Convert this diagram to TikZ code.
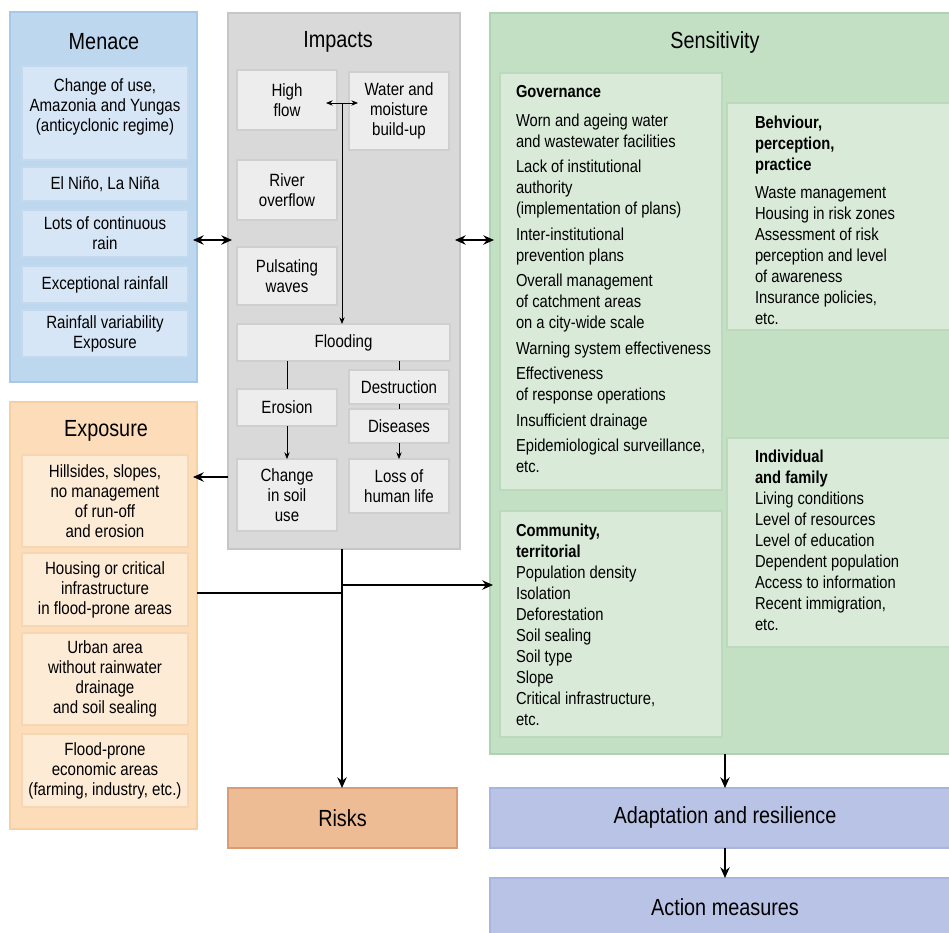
\documentclass[tikz,border=0pt]{standalone}
\usepackage{fontspec}
\setmainfont{Liberation Sans}[FakeStretch=0.85]
\usetikzlibrary{fit,arrows.meta,calc}
\definecolor{menF}{HTML}{BDD7EE}\definecolor{menB}{HTML}{A8C8E8}
\definecolor{menI}{HTML}{D7E6F6}\definecolor{menIB}{HTML}{C5D9EE}
\definecolor{impF}{HTML}{D9D9D9}\definecolor{impB}{HTML}{C6C6C6}
\definecolor{impI}{HTML}{EDEDED}\definecolor{impIB}{HTML}{CFCFCF}
\definecolor{expF}{HTML}{FDDDB9}\definecolor{expB}{HTML}{F8CFA2}
\definecolor{expI}{HTML}{FDEBD6}\definecolor{expIB}{HTML}{F6D7B3}
\definecolor{senF}{HTML}{C3E0C5}\definecolor{senB}{HTML}{ADD4B1}
\definecolor{senI}{HTML}{D9EAD9}\definecolor{senIB}{HTML}{BBD9BD}
\definecolor{rskF}{HTML}{EDBB94}\definecolor{rskB}{HTML}{D99C75}
\definecolor{adpF}{HTML}{B9C3E6}\definecolor{adpB}{HTML}{A9B5DF}
% box with centred text: style, name, corners, text
\newcommand\tbox[4]{\node[#1, fit={#3}] (#2) {};
  \node[ctext] (#2-t) at (#2.center) {#4};}
\begin{document}
\begin{tikzpicture}[x=0.75pt,y=-0.75pt,
  every node/.style={inner sep=0pt,outer sep=0pt},
  bx/.style={draw=#1B, fill=#1F, line width=1.1pt},
  ibx/.style={draw=#1IB, fill=#1I, line width=1.1pt},
  ttl/.style={font=\fontsize{17.5}{21}\selectfont},
  ctext/.style={align=center, font=\fontsize{13.3}{15}\selectfont},
  ltext/.style={align=left, anchor=north west, font=\fontsize{13}{15.75}\selectfont},
  bigarrow/.style={line width=1.2pt, >={Stealth[length=8pt,width=7pt]}},
  thinarrow/.style={line width=0.6pt, >={Stealth[length=5pt,width=4pt]}}
]
\useasboundingbox (0,0) rectangle (949,932);

% ---------- Menace ----------
\node[bx=men, fit={(10,12)(197,382)}] (menace) {};
\node[ttl] (menaceT) at (104,42) {Menace};
\node[ibx=men, fit={(22,66)(188,160)}] (m1) {};
\node[ctext] (m1t) at (105,107) {Change of use,\\Amazonia and Yungas\\(anticyclonic regime)};
\tbox{ibx=men}{m2}{(22,167)(188,201)}{El Niño, La Niña}
\tbox{ibx=men}{m3}{(22,210)(188,257)}{Lots of continuous\\rain}
\tbox{ibx=men}{m4}{(22,266)(188,303)}{Exceptional rainfall}
\tbox{ibx=men}{m5}{(22,310)(188,357)}{Rainfall variability\\Exposure}

% ---------- Impacts ----------
\node[bx=imp, fit={(228,13)(460,549)}] (imp) {};
\node[ttl] (impT) at (338,42) {Impacts};
\tbox{ibx=imp}{hf}{(237,70)(337,130)}{High\\flow}
\tbox{ibx=imp}{wm}{(349,72)(449,150)}{Water and\\moisture\\build-up}
\tbox{ibx=imp}{ro}{(237,160)(337,220)}{River\\overflow}
\tbox{ibx=imp}{pw}{(237,247)(337,305)}{Pulsating\\waves}
\tbox{ibx=imp}{fl}{(237,324)(450,361)}{Flooding}
\tbox{ibx=imp}{er}{(237,389)(337,426)}{Erosion}
\tbox{ibx=imp}{de}{(349,370)(449,404)}{Destruction}
\tbox{ibx=imp}{di}{(349,409)(449,443)}{Diseases}
\tbox{ibx=imp}{cs}{(237,459)(337,531)}{Change\\in soil\\use}
\tbox{ibx=imp}{lh}{(349,459)(449,513)}{Loss of\\human life}

% ---------- Exposure ----------
\node[bx=exp, fit={(10,402)(197,829)}] (exp) {};
\node[ttl] (expT) at (106,431) {Exposure};
\tbox{ibx=exp}{e1}{(22,455)(188,547)}{Hillsides, slopes,\\no management\\of run-off\\and erosion}
\tbox{ibx=exp}{e2}{(22,553)(188,626)}{Housing or critical\\infrastructure\\in flood-prone areas}
\tbox{ibx=exp}{e3}{(22,633)(188,725)}{Urban area\\without rainwater\\drainage\\and soil sealing}
\tbox{ibx=exp}{e4}{(22,734)(188,807)}{Flood-prone\\economic areas\\(farming, industry, etc.)}

% ---------- Risks ----------
\node[bx=rsk, fit={(228,788)(457,848)}] (risks) {};
\node[ttl] (risksT) at (risks.center) {Risks};

% ---------- Sensitivity ----------
\node[bx=sen, fit={(490,13)(953,754)}] (sens) {};
\node[ttl] (sensT) at (715,42) {Sensitivity};
\node[ibx=sen, fit={(500,73)(722,490)}] (gov) {};
\node[ibx=sen, fit={(727,103)(953,330)}] (beh) {};
\node[ibx=sen, fit={(727,438)(953,647)}] (ind) {};
\node[ibx=sen, fit={(500,511)(722,737)}] (com) {};
\node[ltext] (govt) at (516,85) {\textbf{Governance}\\[6pt]
Worn and ageing water\\and wastewater facilities\\[3.4pt]
Lack of institutional\\authority\\(implementation of plans)\\[3.4pt]
Inter-institutional\\prevention plans\\[3.4pt]
Overall management\\of catchment areas\\on a city-wide scale\\[3.4pt]
Warning system effectiveness\\[3.4pt]
Effectiveness\\of response operations\\[3.4pt]
Insufficient drainage\\[3.4pt]
Epidemiological surveillance,\\etc.};
\node[ltext] (beht) at (755,116) {\textbf{Behviour,}\\\textbf{perception,}\\\textbf{practice}\\[5pt]
Waste management\\Housing in risk zones\\Assessment of risk\\perception and level\\of awareness\\Insurance policies,\\etc.};
\node[ltext] (indt) at (755,450) {\textbf{Individual}\\\textbf{and family}\\
Living conditions\\Level of resources\\Level of education\\Dependent population\\Access to information\\Recent immigration,\\etc.};
\node[ltext] (comt) at (516,524) {\textbf{Community,}\\\textbf{territorial}\\
Population density\\Isolation\\Deforestation\\Soil sealing\\Soil type\\Slope\\Critical infrastructure,\\etc.};

% ---------- Adaptation / Action ----------
\node[bx=adp, fit={(490,788)(953,848)}] (adapt) {};
\node[ttl] (adaptT) at (725,817) {Adaptation and resilience};
\node[bx=adp, fit={(490,878)(953,945)}] (act) {};
\node[ttl] (actT) at (725,907) {Action measures};

% ---------- helper coordinates ----------
\coordinate (r240) at (0,240);
\coordinate (r477) at (0,477);
\coordinate (r593) at (0,593);
\coordinate (r585) at (0,585);
\coordinate (cx) at (342,0);
\coordinate (ax) at (725,0);
\coordinate (vx) at (342,103);

% ---------- connectors ----------
\draw[bigarrow,<->] ($(menace.east|-r240)+(-4,0)$) -- ($(imp.west|-r240)+(4,0)$);
\draw[bigarrow,<->] ($(imp.east|-r240)+(-5,0)$) -- ($(sens.west|-r240)+(4,0)$);
\draw[bigarrow,->] (imp.west|-r477) -- ($(exp.east|-r477)+(-4,0)$);
\draw[bigarrow,->] (cx|-imp.south) -- (cx|-risks.north);
\draw[bigarrow] (exp.east|-r593) -- (cx|-r593) -- (cx|-r585);
\draw[bigarrow,->] (cx|-r585) -- ($(sens.west|-r585)+(3,0)$);
\draw[bigarrow,->] (ax|-sens.south) -- (ax|-adapt.north);
\draw[bigarrow,->] (ax|-adapt.south) -- (ax|-act.north);

\draw[thinarrow,<->] ($(hf.east|-vx)+(-11,0)$) -- ($(wm.west|-vx)+(9,0)$);
\draw[thinarrow,->] (vx) -- (vx|-fl.north);
\draw[thinarrow] (er.north|-fl.south) -- (er.north);
\draw[thinarrow] (de.north|-fl.south) -- (de.north);
\draw[thinarrow] (de.south) -- (di.north);
\draw[thinarrow,->] (di.south) -- (lh.north);
\draw[thinarrow,->] (er.south) -- (cs.north);
\end{tikzpicture}
\end{document}
